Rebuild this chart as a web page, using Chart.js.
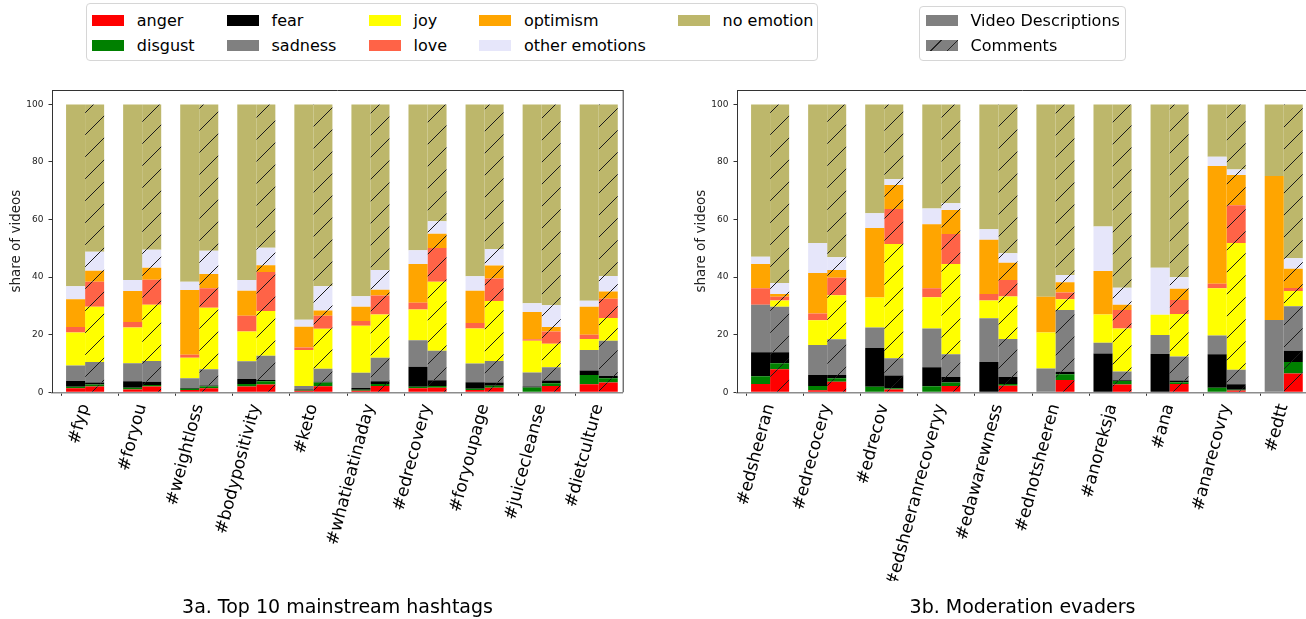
<!DOCTYPE html>
<html><head><meta charset="utf-8">
<script src="https://cdn.jsdelivr.net/npm/chart.js@4.4.1/dist/chart.umd.min.js"></script>
<style>
html,body{margin:0;padding:0;background:#fff;overflow:hidden;width:1306px;height:619px;}
body{position:relative;font-family:'DejaVu Sans',sans-serif;}
canvas{position:absolute;top:0;}
.legend{position:absolute;border:1px solid #d6d6d6;border-radius:4px;background:#fff;box-sizing:border-box;}
.sw{position:absolute;width:32px;height:11px;}
.lt{position:absolute;font-size:16px;line-height:20px;height:20px;white-space:nowrap;color:#000;}
</style></head><body>
<canvas id="c1" width="675" height="619" style="left:0px"></canvas>
<canvas id="c2" width="675" height="619" style="left:684.7px"></canvas>
<script>
// ---------- categories / labels ----------
const mainstreamTags = ['#fyp','#foryou','#weightloss','#bodypositivity','#keto','#whatieatinaday','#edrecovery','#foryoupage','#juicecleanse','#dietculture'];
const evaderTags = ['#edsheeran','#edrecocery','#edrecov','#edsheeranrecoveryy','#edawarewness','#ednotsheeren','#anoreksja','#ana','#anarecovry','#edtt'];
const emotions = ['anger','disgust','fear','sadness','joy','love','optimism','other emotions','no emotion'];
const sources = ['Video Descriptions','Comments'];
const yTicks = [0,20,40,60,80,100];
const titleA = '3a. Top 10 mainstream hashtags';
const titleB = '3b. Moderation evaders';

// ---------- 3a: video descriptions ----------
const aDescAnger    = [1.4, 1.0, 0.8, 2.0, 0.5, 0.5, 1.4, 0.8, 0.2, 2.8];
const aDescDisgust  = [0.5, 0.6, 0.4, 0.9, 0.3, 0.4, 0.5, 0.4, 1.5, 3.2];
const aDescFear     = [2.0, 2.2, 0.3, 1.7, 0.2, 0.6, 7.0, 2.3, 0.3, 1.6];
const aDescSadness  = [5.4, 6.3, 3.4, 6.2, 1.2, 5.3, 9.2, 6.5, 4.9, 7.1];
const aDescJoy      = [11.5, 12.4, 7.1, 10.3, 12.5, 16.3, 10.7, 12.2, 11.0, 3.8];
const aDescLove     = [1.9, 1.9, 1.0, 5.5, 0.9, 1.7, 2.3, 1.9, 0.5, 1.5];
const aDescOptimism = [9.6, 10.8, 22.5, 8.7, 7.2, 4.9, 13.5, 11.2, 9.5, 9.7];
const aDescOther    = [4.5, 3.8, 2.9, 3.7, 2.4, 3.7, 4.7, 5.0, 3.0, 2.1];
const aDescNone     = [63.2, 61.0, 61.6, 61.0, 74.8, 66.6, 50.7, 59.7, 69.1, 68.2];
// ---------- 3a: comments ----------
const aComAnger     = [2.0, 2.0, 1.4, 2.7, 2.1, 2.2, 1.6, 1.6, 2.2, 3.4];
const aComDisgust   = [0.7, 0.5, 0.7, 1.1, 1.3, 0.7, 0.6, 0.7, 0.9, 1.5];
const aComFear      = [0.7, 1.2, 0.3, 0.5, 0.3, 0.9, 2.0, 1.1, 1.0, 0.8];
const aComSadness   = [7.1, 7.2, 5.6, 8.4, 4.5, 8.2, 10.2, 7.5, 4.6, 12.2];
const aComJoy       = [19.2, 19.5, 21.4, 15.5, 13.9, 15.0, 24.0, 20.8, 8.2, 7.9];
const aComLove      = [8.7, 8.7, 6.7, 13.6, 4.5, 6.6, 11.7, 7.8, 4.2, 6.7];
const aComOptimism  = [3.8, 4.2, 5.0, 2.3, 1.8, 2.0, 5.0, 4.5, 1.6, 2.5];
const aComOther     = [6.6, 6.2, 8.1, 6.1, 8.4, 6.9, 4.3, 5.8, 7.5, 5.4];
const aComNone      = [51.2, 50.5, 50.8, 49.8, 63.2, 57.5, 40.6, 50.2, 69.8, 59.6];
// ---------- 3b: video descriptions ----------
const bDescAnger    = [2.9, 0.7, 0, 0, 0, 0, 0, 0, 0, 0];
const bDescDisgust  = [2.7, 1.5, 1.9, 2.1, 0, 0, 0, 0, 1.6, 0];
const bDescFear     = [8.3, 3.8, 13.5, 6.6, 10.5, 0, 13.5, 13.3, 11.6, 0];
const bDescSadness  = [16.5, 10.4, 7.1, 13.5, 15.2, 8.3, 3.7, 6.6, 6.5, 25.1];
const bDescJoy      = [0, 8.6, 10.4, 10.8, 6.2, 12.5, 9.8, 7.0, 16.4, 0];
const bDescLove     = [5.7, 2.4, 0, 3.1, 2.2, 0, 0, 0, 1.6, 0];
const bDescOptimism = [8.5, 14.0, 24.2, 22.3, 18.9, 12.4, 15.1, 0, 40.9, 50.0];
const bDescOther    = [2.5, 10.5, 5.1, 5.4, 3.6, 0, 15.5, 16.4, 3.2, 0];
const bDescNone     = [52.9, 48.1, 37.8, 36.2, 43.4, 66.8, 42.4, 56.7, 18.2, 24.9];
// ---------- 3b: comments ----------
const bComAnger     = [8.0, 3.7, 1.0, 2.2, 2.3, 4.3, 2.7, 2.9, 0.6, 6.5];
const bComDisgust   = [2.1, 1.2, 0.4, 1.2, 0.6, 2.0, 1.2, 0.6, 0.3, 4.0];
const bComFear      = [3.8, 1.1, 4.4, 1.9, 2.4, 0.8, 0.3, 0.6, 1.9, 3.9];
const bComSadness   = [15.8, 12.4, 6.0, 7.9, 13.2, 21.5, 3.0, 8.3, 5.0, 15.5];
const bComJoy       = [2.2, 15.3, 39.7, 31.4, 14.8, 3.7, 15.0, 14.8, 44.1, 5.3];
const bComLove      = [1.3, 6.1, 12.2, 10.4, 5.7, 2.4, 6.4, 4.9, 13.1, 1.0];
const bComOptimism  = [0.9, 2.7, 8.3, 8.3, 6.0, 3.5, 1.8, 3.9, 10.5, 6.7];
const bComOther     = [3.9, 4.4, 2.0, 2.4, 3.3, 2.5, 5.9, 4.0, 1.9, 3.7];
const bComNone      = [62.0, 53.1, 26.0, 34.3, 51.7, 59.3, 63.7, 60.0, 22.6, 53.4];

// ---------- styles ----------
const emotionColors = ['#ff0000','#008000','#000000','#808080','#ffff00','#ff6347','#ffa500','#e6e6fa','#bdb76b'];
const sourceColor = '#808080';

const aDesc = [aDescAnger,aDescDisgust,aDescFear,aDescSadness,aDescJoy,aDescLove,aDescOptimism,aDescOther,aDescNone];
const aCom  = [aComAnger,aComDisgust,aComFear,aComSadness,aComJoy,aComLove,aComOptimism,aComOther,aComNone];
const bDesc = [bDescAnger,bDescDisgust,bDescFear,bDescSadness,bDescJoy,bDescLove,bDescOptimism,bDescOther,bDescNone];
const bCom  = [bComAnger,bComDisgust,bComFear,bComSadness,bComJoy,bComLove,bComOptimism,bComOther,bComNone];

Chart.defaults.font.family = "'DejaVu Sans', sans-serif";

function hatch(ctx, color){
  const P = 22;
  const c = document.createElement('canvas'); c.width = P; c.height = P;
  const g = c.getContext('2d');
  g.fillStyle = color; g.fillRect(0,0,P,P);
  g.strokeStyle = '#1a1a1a'; g.lineWidth = 1;
  g.beginPath();
  for (const o of [-P, 0, P]) { g.moveTo(o, P); g.lineTo(o + P, 0); }
  g.stroke();
  return ctx.createPattern(c, 'repeat');
}

const boxPlugin = {
  id: 'box',
  afterDraw(chart){
    const {ctx, chartArea: a} = chart;
    ctx.save();
    ctx.strokeStyle = '#333'; ctx.lineWidth = 1;
    ctx.beginPath();
    ctx.moveTo(a.left, a.top + 0.5); ctx.lineTo(a.right + 0.5, a.top + 0.5);
    ctx.moveTo(a.right + 0.5, a.top); ctx.lineTo(a.right + 0.5, a.bottom);
    ctx.stroke();
    ctx.restore();
  }
};

function makeChart(id, tags, desc, com, title){
  const ctx = document.getElementById(id).getContext('2d');
  const datasets = [];
  emotions.forEach((e, k) => datasets.push({
    label: e + ' – ' + sources[0],
    data: desc[k].map((v, i) => ({x: i, y: v})),
    backgroundColor: emotionColors[k], stack: 'desc', borderWidth: 0
  }));
  emotions.forEach((e, k) => datasets.push({
    label: e + ' – ' + sources[1],
    data: com[k].map((v, i) => ({x: i, y: v})),
    backgroundColor: hatch(ctx, emotionColors[k]), stack: 'com', borderWidth: 0
  }));
  return new Chart(ctx, {
    type: 'bar',
    data: {datasets},
    options: {
      responsive: false, animation: false,
      layout: {padding: {top: 90, left: 0, right: 0, bottom: 0}},
      datasets: {bar: {categoryPercentage: 0.667, barPercentage: 1}},
      plugins: {
        legend: {display: false}, tooltip: {enabled: false},
        title: {display: true, text: title, position: 'bottom', color: '#000',
                font: {size: 19, weight: 'normal'}, padding: {top: 15.5, bottom: 0}}
      },
      scales: {
        x: {
          type: 'linear', stacked: true, offset: false, min: -0.58, max: 9.42,
          afterBuildTicks: ax => { ax.ticks = tags.map((t, i) => ({value: i + 0.09})); },
          afterFit: ax => { ax.height = 188.4; },
          ticks: {autoSkip: false, minRotation: 75, maxRotation: 75, padding: 6, labelOffset: -5.5,
                  color: '#000', font: {size: 17}, callback: v => tags[Math.round(v)]},
          grid: {drawOnChartArea: false, drawTicks: true, tickLength: 3.5, color: '#333'},
          border: {display: true, color: '#8c8c8c', width: 1.5}
        },
        y: {
          type: 'linear', stacked: true, min: 0, max: 105, position: 'left',
          afterBuildTicks: ax => { ax.ticks = yTicks.map(v => ({value: v})); },
          afterFit: ax => { ax.width = 52; },
          ticks: {padding: 5, color: '#222', font: {size: 9}},
          grid: {drawOnChartArea: false, tickLength: 3.5, color: '#333'},
          border: {display: true, color: '#333', width: 1},
          title: {display: true, text: 'share of videos', color: '#222', font: {size: 13.5}, padding: {top: 8, bottom: 0}}
        },
        yR: {
          type: 'linear', position: 'right', display: true,
          afterFit: ax => { ax.width = 52.3; },
          ticks: {display: false}, grid: {display: false}, border: {display: false}
        }
      }
    },
    plugins: [boxPlugin]
  });
}

makeChart('c1', mainstreamTags, aDesc, aCom, titleA);
makeChart('c2', evaderTags, bDesc, bCom, titleB);

// ---------- legends (HTML) ----------
function el(cls, style, text){
  const d = document.createElement('div'); d.className = cls;
  Object.assign(d.style, style); if (text) d.textContent = text;
  document.body.appendChild(d); return d;
}
const rowY = [21, 45.5];
el('legend', {left: '86px', top: '3px', width: '732px', height: '58px'});
const colX = [92, 226.7, 368.8, 479.1, 677.8];
emotions.forEach((e, k) => {
  const cx = colX[Math.floor(k / 2)], cy = rowY[k % 2];
  el('sw', {left: cx + 'px', top: (cy - 6) + 'px', background: emotionColors[k]});
  el('lt', {left: (cx + 44.8) + 'px', top: (cy - 10) + 'px'}, e);
});
el('legend', {left: '919px', top: '6px', width: '207px', height: '55px'});
const hatchCss = 'repeating-linear-gradient(135deg, ' + sourceColor + ' 0px, ' + sourceColor + ' 10.5px, #222 10.5px, #222 11.5px)';
sources.forEach((s, k) => {
  const cx = 925.7, cy = rowY[k];
  el('sw', {left: cx + 'px', top: (cy - 6) + 'px', background: k === 0 ? sourceColor : hatchCss});
  el('lt', {left: (cx + 44.8) + 'px', top: (cy - 10) + 'px'}, s);
});
</script>
</body></html>
